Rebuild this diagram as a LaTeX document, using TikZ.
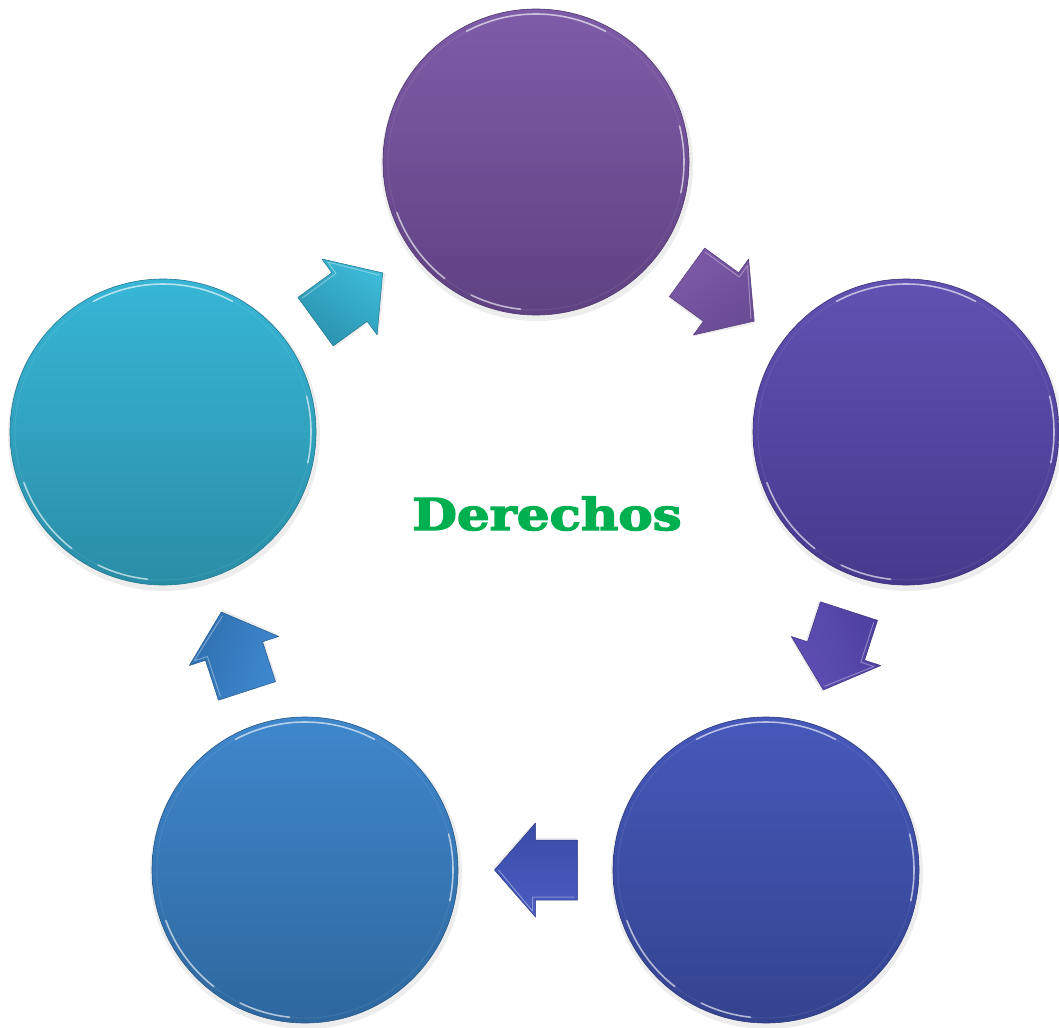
\documentclass[tikz,border=0pt]{standalone}
\usepackage{fontspec}
\usepackage{graphicx}
\newfontfamily\slabfont[BoldFeatures={FakeBold=3}]{DejaVu Serif}
\usetikzlibrary{calc}
\definecolor{aT}{HTML}{7E5CA8}\definecolor{aB}{HTML}{5F4282}
\definecolor{bT}{HTML}{6151B2}\definecolor{bB}{HTML}{46398D}
\definecolor{cT}{HTML}{4658BA}\definecolor{cB}{HTML}{34438F}
\definecolor{dT}{HTML}{3F87CC}\definecolor{dB}{HTML}{2E679E}
\definecolor{eT}{HTML}{37B6D6}\definecolor{eB}{HTML}{2A8DA7}
\definecolor{arA}{HTML}{3CBAD8}\definecolor{arAb}{HTML}{2A92AE}
\definecolor{arB}{HTML}{7C5AA7}\definecolor{arBb}{HTML}{6A4B96}
\definecolor{arC}{HTML}{5F4FB5}\definecolor{arCb}{HTML}{4E40A0}
\definecolor{arD}{HTML}{4A5CC0}\definecolor{arDb}{HTML}{3A4CA8}
\definecolor{arE}{HTML}{3F88CF}\definecolor{arEb}{HTML}{2F70B0}
\definecolor{titlegreen}{HTML}{00B050}
\newcommand\shinering[1]{%
  \foreach \sa/\sb in {118/62, 200/232, 244/264, -12/14}{%
    \draw[white, line width=1.6pt, opacity=.6, line cap=round]
      ($(#1.center)+(\sa:148pt)$) arc[start angle=\sa, end angle=\sb, radius=148pt];
  }%
  \draw[white, opacity=.08, line width=1pt] (#1.center) circle[radius=148pt];
}
% block arrow pointing along +x, centred on a named coordinate
\newcommand\blockarrowat[4]{%
  \begin{scope}[shift={(#1)}, rotate=#2]
    \fill[black, opacity=.08] (-41,-29) -- (1,-29) -- (1,-46) -- (43,2) -- (1,48) -- (1,32) -- (-41,32) -- cycle;
    \path[top color=#3, bottom color=#4, shading angle=-#2, draw=#4!80!black, line width=.5pt, line join=round]
      (-42,-30) -- (0,-30) -- (0,-47) -- (41,0) -- (0,47) -- (0,30) -- (-42,30) -- cycle;
    \draw[white, opacity=.35, line width=1pt, line join=round]
      (-39,-27) -- (3,-27) -- (3,-41) -- (37,0);
  \end{scope}}
\begin{document}
\begin{tikzpicture}[x=1pt,y=-1pt]
\useasboundingbox (0,0) rectangle (1059,1027);
\tikzset{
  disc/.style n args={2}{circle, minimum size=306pt, inner sep=0pt,
    top color=#1, bottom color=#2, draw=#2!85!black, line width=.6pt},
  shadowdisc/.style={fill=black, opacity=.07}
}
% soft shadows
\foreach \px/\py in {536/162, 906/432, 766/870, 305/870, 163/432}{
  \fill[shadowdisc] (\px+1,\py+3) circle[radius=156pt];
}
\node[disc={aT}{aB}] (c1) at (536,162) {};
\node[disc={bT}{bB}] (c2) at (906,432) {};
\node[disc={cT}{cB}] (c3) at (766,870) {};
\node[disc={dT}{dB}] (c4) at (305,870) {};
\node[disc={eT}{eB}] (c5) at (163,432) {};
\shinering{c1}\shinering{c2}\shinering{c3}\shinering{c4}\shinering{c5}
% block arrows between the discs
\coordinate (m1) at ($(c5)!0.5!(c1)$);
\coordinate (m2) at ($(c1)!0.5!(c2)$);
\coordinate (m3) at ($(c2)!0.5!(c3)$);
\coordinate (m4) at ($(c3)!0.5!(c4)$);
\coordinate (m5) at ($(c4)!0.5!(c5)$);
\blockarrowat{m1}{36}{arA}{arAb}
\blockarrowat{m2}{-36}{arB}{arBb}
\blockarrowat{m3}{-108}{arC}{arCb}
\blockarrowat{m4}{180}{arD}{arDb}
\blockarrowat{m5}{108}{arE}{arEb}
% title
\node[anchor=base, inner sep=0pt, text=titlegreen] (t) at (547,530)
  {\slabfont\bfseries\fontsize{44}{44}\selectfont\scalebox{1.17}[1]{Derechos}};
\end{tikzpicture}
\end{document}
